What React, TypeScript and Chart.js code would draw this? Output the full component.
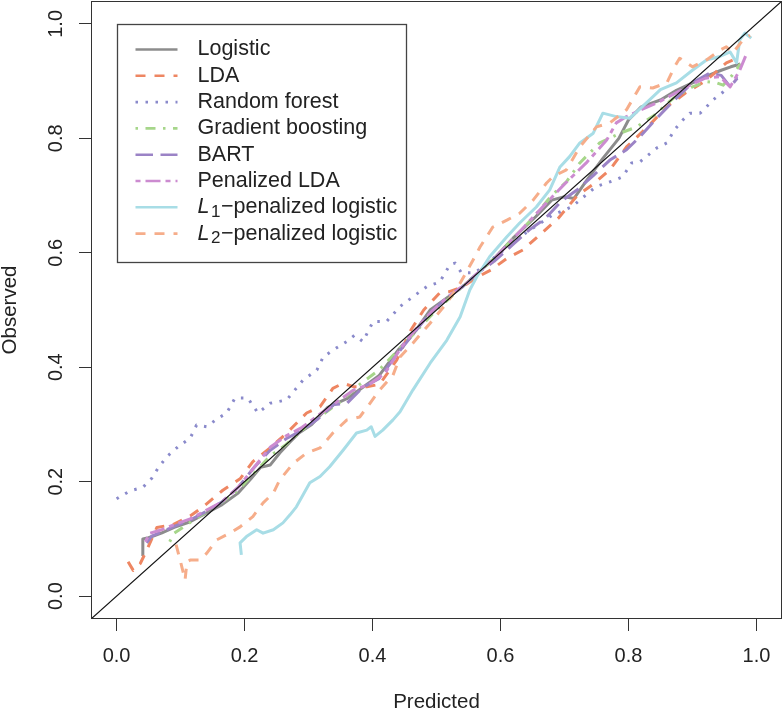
import React, { useEffect, useRef } from 'react';
import { Chart, registerables } from 'chart.js';

Chart.register(...registerables);

const FONT = '"Liberation Sans", Arial, Helvetica, sans-serif';

// ---- data (predicted, observed) ----
const logistic: number[][] = [
  [0.040,0.070],[0.041,0.100],[0.050,0.102],[0.070,0.110],[0.090,0.120],[0.115,0.130],[0.140,0.145],[0.165,0.160],
  [0.190,0.180],[0.210,0.205],[0.225,0.225],[0.240,0.229],[0.255,0.250],[0.270,0.268],[0.285,0.285],[0.305,0.300],
  [0.330,0.330],[0.360,0.345],[0.385,0.365],[0.410,0.385],[0.440,0.430],[0.465,0.460],[0.490,0.500],[0.515,0.520],
  [0.540,0.540],[0.565,0.565],[0.590,0.590],[0.620,0.626],[0.655,0.663],[0.680,0.692],[0.700,0.698],[0.715,0.695],
  [0.735,0.727],[0.760,0.765],[0.785,0.800],[0.800,0.832],[0.820,0.855],[0.850,0.867],[0.875,0.884],[0.900,0.897],
  [0.925,0.910],[0.945,0.919],[0.960,0.925],[0.975,0.930],
];
const lda: number[][] = [
  [0.018,0.060],[0.026,0.045],[0.037,0.057],[0.047,0.080],[0.063,0.120],[0.088,0.125],[0.115,0.140],[0.135,0.156],
  [0.166,0.185],[0.193,0.205],[0.213,0.235],[0.240,0.259],[0.266,0.285],[0.297,0.320],[0.318,0.331],[0.338,0.363],
  [0.354,0.372],[0.370,0.366],[0.391,0.366],[0.411,0.370],[0.438,0.413],[0.460,0.465],[0.480,0.500],[0.505,0.530],
  [0.520,0.532],[0.540,0.540],[0.560,0.555],[0.585,0.570],[0.610,0.590],[0.635,0.605],[0.660,0.630],[0.690,0.660],
  [0.720,0.700],[0.745,0.720],[0.771,0.745],[0.797,0.785],[0.830,0.820],[0.860,0.855],[0.890,0.880],[0.920,0.900],
  [0.953,0.932],[0.970,0.940],
];
const randomForest: number[][] = [
  [0.000,0.170],[0.021,0.184],[0.041,0.190],[0.055,0.206],[0.065,0.224],[0.078,0.243],[0.096,0.261],[0.115,0.276],
  [0.125,0.299],[0.141,0.296],[0.156,0.309],[0.172,0.320],[0.185,0.346],[0.205,0.346],[0.221,0.320],[0.240,0.337],
  [0.266,0.343],[0.291,0.377],[0.313,0.395],[0.323,0.418],[0.344,0.434],[0.360,0.445],[0.372,0.456],[0.385,0.445],
  [0.401,0.480],[0.422,0.480],[0.443,0.506],[0.463,0.523],[0.485,0.541],[0.505,0.549],[0.521,0.579],[0.529,0.582],
  [0.539,0.565],[0.560,0.565],[0.600,0.600],[0.640,0.635],[0.680,0.665],[0.711,0.680],[0.724,0.692],[0.740,0.707],
  [0.750,0.716],[0.766,0.722],[0.779,0.727],[0.791,0.733],[0.805,0.757],[0.818,0.759],[0.828,0.768],[0.844,0.783],
  [0.860,0.792],[0.872,0.815],[0.885,0.832],[0.896,0.844],[0.912,0.844],[0.922,0.855],[0.932,0.867],[0.948,0.881],
  [0.963,0.897],[0.974,0.914],
];
const gradientBoosting: number[][] = [
  [0.083,0.095],[0.090,0.110],[0.110,0.125],[0.130,0.140],[0.160,0.160],[0.190,0.185],[0.215,0.215],[0.240,0.245],
  [0.265,0.265],[0.290,0.290],[0.320,0.315],[0.350,0.340],[0.380,0.370],[0.410,0.395],[0.440,0.430],[0.470,0.465],
  [0.500,0.500],[0.530,0.530],[0.560,0.560],[0.590,0.590],[0.620,0.625],[0.650,0.660],[0.680,0.700],[0.703,0.724],
  [0.724,0.757],[0.755,0.792],[0.787,0.809],[0.813,0.820],[0.840,0.840],[0.870,0.870],[0.900,0.890],[0.922,0.899],
  [0.938,0.897],[0.948,0.893],[0.962,0.910],[0.975,0.930],
];
const bart: number[][] = [
  [0.047,0.093],[0.055,0.105],[0.070,0.112],[0.090,0.122],[0.115,0.133],[0.140,0.148],[0.165,0.165],[0.190,0.190],
  [0.215,0.225],[0.240,0.255],[0.265,0.275],[0.290,0.290],[0.315,0.310],[0.340,0.335],[0.360,0.337],[0.385,0.365],
  [0.410,0.380],[0.440,0.425],[0.465,0.460],[0.490,0.495],[0.515,0.520],[0.540,0.540],[0.565,0.565],[0.590,0.585],
  [0.620,0.615],[0.645,0.640],[0.670,0.660],[0.695,0.690],[0.720,0.710],[0.745,0.735],[0.771,0.762],[0.797,0.780],
  [0.818,0.803],[0.840,0.830],[0.870,0.865],[0.900,0.897],[0.927,0.914],[0.945,0.910],[0.959,0.890],[0.970,0.905],
];
const penalizedLda: number[][] = [
  [0.045,0.095],[0.052,0.110],[0.068,0.115],[0.090,0.125],[0.115,0.135],[0.140,0.150],[0.165,0.165],[0.190,0.190],
  [0.215,0.225],[0.240,0.260],[0.265,0.280],[0.290,0.295],[0.320,0.320],[0.345,0.340],[0.370,0.360],[0.395,0.370],
  [0.420,0.390],[0.445,0.435],[0.470,0.470],[0.495,0.500],[0.520,0.525],[0.545,0.545],[0.570,0.570],[0.595,0.595],
  [0.620,0.625],[0.645,0.655],[0.670,0.685],[0.700,0.720],[0.734,0.757],[0.766,0.797],[0.781,0.827],[0.797,0.838],
  [0.820,0.850],[0.850,0.865],[0.875,0.880],[0.900,0.895],[0.920,0.905],[0.943,0.908],[0.959,0.890],[0.974,0.919],
  [0.985,0.949],
];
const l1Logistic: number[][] = [
  [0.195,0.072],[0.193,0.093],[0.203,0.104],[0.219,0.116],[0.229,0.110],[0.245,0.116],[0.260,0.128],[0.271,0.142],
  [0.281,0.156],[0.302,0.198],[0.318,0.209],[0.333,0.226],[0.354,0.255],[0.375,0.285],[0.391,0.290],[0.398,0.296],
  [0.404,0.279],[0.416,0.290],[0.432,0.308],[0.443,0.322],[0.463,0.360],[0.490,0.407],[0.516,0.447],[0.537,0.488],
  [0.552,0.535],[0.563,0.558],[0.583,0.593],[0.610,0.628],[0.630,0.652],[0.656,0.680],[0.677,0.710],[0.693,0.750],
  [0.708,0.768],[0.724,0.792],[0.745,0.809],[0.760,0.844],[0.781,0.838],[0.802,0.835],[0.828,0.862],[0.850,0.885],
  [0.875,0.897],[0.900,0.919],[0.922,0.937],[0.943,0.943],[0.959,0.951],[0.969,0.932],[0.974,0.972],[0.982,0.984],
  [0.992,0.975],
];
const l2Logistic: number[][] = [
  [0.093,0.090],[0.100,0.060],[0.107,0.028],[0.110,0.060],[0.115,0.063],[0.130,0.063],[0.141,0.075],[0.156,0.098],
  [0.177,0.110],[0.193,0.121],[0.213,0.139],[0.229,0.163],[0.245,0.180],[0.255,0.203],[0.276,0.232],[0.297,0.250],
  [0.318,0.259],[0.338,0.285],[0.360,0.308],[0.380,0.313],[0.396,0.337],[0.411,0.360],[0.432,0.386],[0.443,0.418],
  [0.463,0.442],[0.490,0.477],[0.516,0.512],[0.537,0.547],[0.557,0.587],[0.568,0.610],[0.588,0.645],[0.610,0.657],
  [0.630,0.669],[0.651,0.692],[0.672,0.722],[0.682,0.733],[0.703,0.745],[0.724,0.785],[0.750,0.820],[0.771,0.827],
  [0.797,0.850],[0.818,0.890],[0.838,0.888],[0.860,0.897],[0.872,0.925],[0.880,0.940],[0.900,0.925],[0.922,0.937],
  [0.943,0.954],[0.953,0.960],[0.963,0.949],[0.979,0.972],[0.990,0.980],
];
const diagonal: number[][] = [[-0.04, -0.04], [1.04, 1.04]];

const seriesLabels = ['Logistic', 'LDA', 'Random forest', 'Gradient boosting', 'BART', 'Penalized LDA', 'L1', 'L2'];
const seriesData = [logistic, lda, randomForest, gradientBoosting, bart, penalizedLda, l1Logistic, l2Logistic];

const xTicks = [0, 0.2, 0.4, 0.6, 0.8, 1.0];
const yTicks = [0, 0.2, 0.4, 0.6, 0.8, 1.0];
const xTitle = 'Predicted';
const yTitle = 'Observed';

// ---- styles ----
const colors = ['#8c8c8c', '#ee8662', '#8a8acb', '#a6d68a', '#9b83c6', '#cc8bd0', '#a8dde6', '#f6ad8a'];
const dashes: number[][] = [[], [10, 9], [2.5, 7.5], [2.5, 7.5, 10, 7.5], [17.5, 7.5], [5, 5, 15, 5], [], [10, 9]];
const LEGEND_SIZE = 21.5;

const decorPlugin = {
  id: 'decor',
  afterDatasetsDraw(chart: any) {
    const { ctx, chartArea, scales } = chart;
    ctx.save();
    // plot box
    ctx.strokeStyle = '#333';
    ctx.lineWidth = 1;
    ctx.setLineDash([]);
    ctx.strokeRect(chartArea.left + 0.5, chartArea.top + 0.5, chartArea.right - chartArea.left - 1, chartArea.bottom - chartArea.top - 1);

    // legend
    const lx = Math.round(scales.x.getPixelForValue(0)) + 0.5;
    const ly = Math.round(scales.y.getPixelForValue(1)) + 0.5;
    const lw = 289;
    const lh = 238;
    ctx.fillStyle = '#fff';
    ctx.fillRect(lx, ly, lw, lh);
    ctx.strokeStyle = '#444';
    ctx.lineWidth = 1.3;
    ctx.strokeRect(lx, ly, lw, lh);
    const rowGap = 26.3;
    for (let i = 0; i < seriesLabels.length; i++) {
      const cy = ly + 25 + i * rowGap;
      ctx.strokeStyle = colors[i];
      ctx.lineWidth = 2.6;
      ctx.setLineDash(dashes[i]);
      ctx.beginPath();
      ctx.moveTo(lx + 18, cy);
      ctx.lineTo(lx + 60, cy);
      ctx.stroke();
      ctx.setLineDash([]);
      ctx.fillStyle = '#222';
      ctx.textBaseline = 'middle';
      ctx.textAlign = 'left';
      const tx = lx + 80;
      const lab = seriesLabels[i];
      if (lab === 'L1' || lab === 'L2') {
        ctx.font = `italic ${LEGEND_SIZE}px ${FONT}`;
        ctx.fillText('L', tx, cy);
        const w1 = ctx.measureText('L').width;
        ctx.font = `17px ${FONT}`;
        ctx.fillText(lab === 'L1' ? '1' : '2', tx + w1 + 1.5, cy + 5);
        const w2 = ctx.measureText('1').width;
        ctx.font = `${LEGEND_SIZE}px ${FONT}`;
        ctx.fillText('\u2212penalized logistic', tx + w1 + w2 + 2, cy);
      } else {
        ctx.font = `${LEGEND_SIZE}px ${FONT}`;
        ctx.fillText(lab, tx, cy);
      }
    }

    // axis titles
    ctx.fillStyle = '#222';
    ctx.font = `20.5px ${FONT}`;
    ctx.textAlign = 'center';
    ctx.textBaseline = 'middle';
    ctx.fillText(xTitle, (chartArea.left + chartArea.right) / 2, 702);
    ctx.translate(10, (chartArea.top + chartArea.bottom) / 2);
    ctx.rotate(-Math.PI / 2);
    ctx.fillText(yTitle, 0, 0);
    ctx.restore();
  },
};

const zeroPad = (s: any) => {
  s.paddingTop = 0;
  s.paddingBottom = 0;
  s.paddingLeft = 0;
  s.paddingRight = 0;
};

export default function App() {
  const ref = useRef<HTMLCanvasElement | null>(null);

  useEffect(() => {
    if (!ref.current) return;
    const datasets: any[] = seriesData.map((d, i) => ({
      label: seriesLabels[i],
      data: d.map(([x, y]) => ({ x, y })),
      borderColor: colors[i],
      borderWidth: 3,
      borderDash: dashes[i],
      borderCapStyle: 'butt',
      borderJoinStyle: 'round',
      pointRadius: 0,
      fill: false,
      tension: 0,
      order: seriesLabels.length - i,
    }));
    datasets.push({
      label: 'diag',
      data: diagonal.map(([x, y]) => ({ x, y })),
      borderColor: '#111',
      borderWidth: 1.2,
      pointRadius: 0,
      fill: false,
      order: 0,
    });

    const tickFont = { family: FONT, size: 20 };
    const chart = new Chart(ref.current, {
      type: 'line',
      data: { datasets },
      options: {
        animation: false,
        responsive: false,
        maintainAspectRatio: false,
        layout: { padding: { top: 1, right: 1, left: 0, bottom: 0 } },
        plugins: { legend: { display: false }, tooltip: { enabled: false } },
        scales: {
          x: {
            type: 'linear',
            min: -0.04,
            max: 1.04,
            afterBuildTicks: (s: any) => { s.ticks = xTicks.map((v) => ({ value: v })); },
            afterFit: (s: any) => { s.height = 92; zeroPad(s); },
            grid: { drawOnChartArea: false, drawTicks: true, tickLength: 12, color: '#333', lineWidth: 1 },
            border: { display: false },
            ticks: { padding: 13, font: tickFont, color: '#222', maxRotation: 0, autoSkip: false, callback: (v: any) => Number(v).toFixed(1) },
          },
          y: {
            type: 'linear',
            min: -0.04,
            max: 1.04,
            afterBuildTicks: (s: any) => { s.ticks = yTicks.map((v) => ({ value: v })); },
            afterFit: (s: any) => { s.width = 91; zeroPad(s); },
            grid: { drawOnChartArea: false, drawTicks: true, tickLength: 12, color: '#333', lineWidth: 1 },
            border: { display: false },
            ticks: { padding: 9, font: tickFont, color: '#222', minRotation: 90, maxRotation: 90, crossAlign: 'center', autoSkip: false, callback: (v: any) => Number(v).toFixed(1) },
          },
        },
      } as any,
      plugins: [decorPlugin],
    });
    return () => chart.destroy();
  }, []);

  return (
    <div style={{ position: 'absolute', left: 0, top: 0, width: 783, height: 711, background: '#fff' }}>
      <canvas ref={ref} width={783} height={711} style={{ display: 'block', width: 783, height: 711 }} />
    </div>
  );
}
